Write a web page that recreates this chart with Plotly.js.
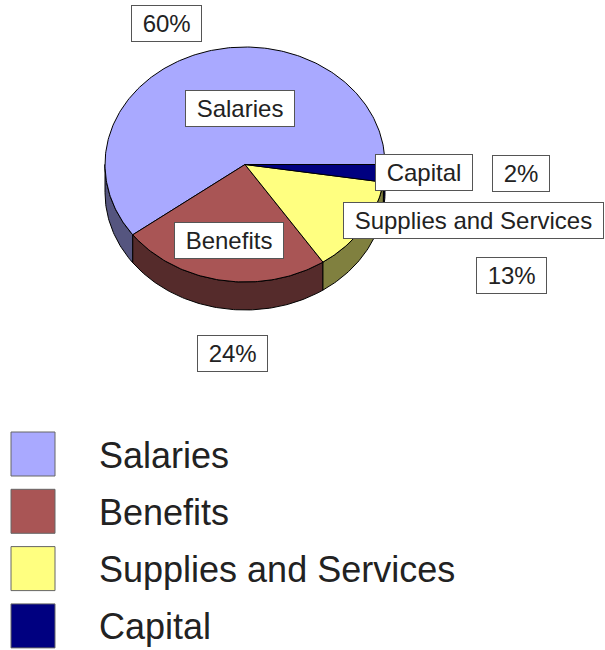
<!DOCTYPE html>
<html><head><meta charset="utf-8">
<script src="https://cdn.plot.ly/plotly-3.0.1.min.js"></script>
<style>html,body{margin:0;padding:0;background:#fff}</style>
</head><body><div id="chart" style="width:605px;height:650px"></div>
<script>
// ---- data ----
const categories = ['Salaries', 'Benefits', 'Supplies and Services', 'Capital'];
const values = [60.2, 24.2, 13.2, 2.4];
const pctLabels = ['60%', '24%', '13%', '2%'];

// ---- styles ----
const topColors = ['#A9A9FF', '#A95555', '#FFFF80', '#000080'];
const sideColors = ['#55557F', '#552B2B', '#80803F', '#000040'];
const FONT = '"Liberation Sans", Arial, sans-serif';
const TEXT_COLOR = '#222';

// ---- geometry (positions in pixel space of the full-page axes) ----
const W = 605, H = 650;
const cx = 245, cy = 164.5, rx = 140, ry = 117.5, depth = 28;
const namePos = [[240, 108], [229, 240], [473.5, 220.5], [423.5, 172]];
const pctPos = [[166, 23], [232, 353], [511, 275], [520.5, 173]];
const legendX = 33, legendY0 = 454, legendStep = 57.3, legendTextX = 97;

const total = values.reduce((a, b) => a + b, 0);
const spans = [];
let acc = 0;
for (let i = values.length - 1; i >= 0; i--) {
  const a0 = acc;
  acc += values[i] / total * 360;
  spans[i] = [a0, acc];
}
function pt(tDeg, dz) {
  const t = tDeg * Math.PI / 180;
  return [cx + rx * Math.cos(t), cy + ry * Math.sin(t) + (dz || 0)];
}
function arc(a0, a1, dz) {
  const n = Math.max(2, Math.ceil(Math.abs(a1 - a0)));
  const xs = [], ys = [];
  for (let k = 0; k <= n; k++) {
    const p = pt(a0 + (a1 - a0) * k / n, dz);
    xs.push(p[0]); ys.push(p[1]);
  }
  return [xs, ys];
}

const traces = [];
// side walls (front half only)
categories.forEach((c, i) => {
  const a0 = Math.max(spans[i][0], 0), a1 = Math.min(spans[i][1], 180);
  if (a1 <= a0) return;
  const top = arc(a0, a1, 0), bot = arc(a1, a0, depth);
  const xs = top[0].concat(bot[0]), ys = top[1].concat(bot[1]);
  xs.push(xs[0]); ys.push(ys[0]);
  traces.push({type: 'scatter', mode: 'lines', x: xs, y: ys, fill: 'toself',
    fillcolor: sideColors[i], line: {color: '#000', width: 1}, hoverinfo: 'skip', showlegend: false});
});
// top faces
categories.forEach((c, i) => {
  const a = arc(spans[i][0], spans[i][1], 0);
  const xs = [cx].concat(a[0], [cx]), ys = [cy].concat(a[1], [cy]);
  traces.push({type: 'scatter', mode: 'lines', x: xs, y: ys, fill: 'toself',
    fillcolor: topColors[i], line: {color: '#000', width: 1}, name: c, hoverinfo: 'name', showlegend: false});
});
// legend keys
traces.push({type: 'scatter', mode: 'markers',
  x: categories.map(() => legendX), y: categories.map((c, i) => legendY0 + i * legendStep),
  marker: {symbol: 'square', size: 44, color: topColors, line: {color: '#666', width: 1}},
  hoverinfo: 'skip', showlegend: false});

const NB = '\u00a0';
const annotations = [];
categories.forEach((c, i) => {
  annotations.push({x: namePos[i][0], y: namePos[i][1], xref: 'x', yref: 'y', text: NB + c + NB,
    showarrow: false, bgcolor: '#fff', bordercolor: '#555', borderwidth: 1, borderpad: 4,
    font: {family: FONT, size: 24, color: TEXT_COLOR}});
  annotations.push({x: pctPos[i][0], y: pctPos[i][1], xref: 'x', yref: 'y', text: NB + pctLabels[i] + NB,
    showarrow: false, bgcolor: '#fff', bordercolor: '#555', borderwidth: 1, borderpad: 4,
    font: {family: FONT, size: 24, color: TEXT_COLOR}});
  annotations.push({x: legendTextX, y: legendY0 + 1 + i * legendStep, xref: 'x', yref: 'y', text: c,
    xanchor: 'left', showarrow: false, font: {family: FONT, size: 36, color: TEXT_COLOR}});
});

const layout = {
  width: W, height: H, margin: {l: 0, r: 0, t: 0, b: 0},
  paper_bgcolor: '#fff', plot_bgcolor: '#fff',
  xaxis: {range: [0, W], visible: false, fixedrange: true},
  yaxis: {range: [H, 0], visible: false, fixedrange: true},
  showlegend: false, annotations: annotations,
  font: {family: FONT}
};
Plotly.newPlot('chart', traces, layout, {displayModeBar: false, staticPlot: true});
</script></body></html>
